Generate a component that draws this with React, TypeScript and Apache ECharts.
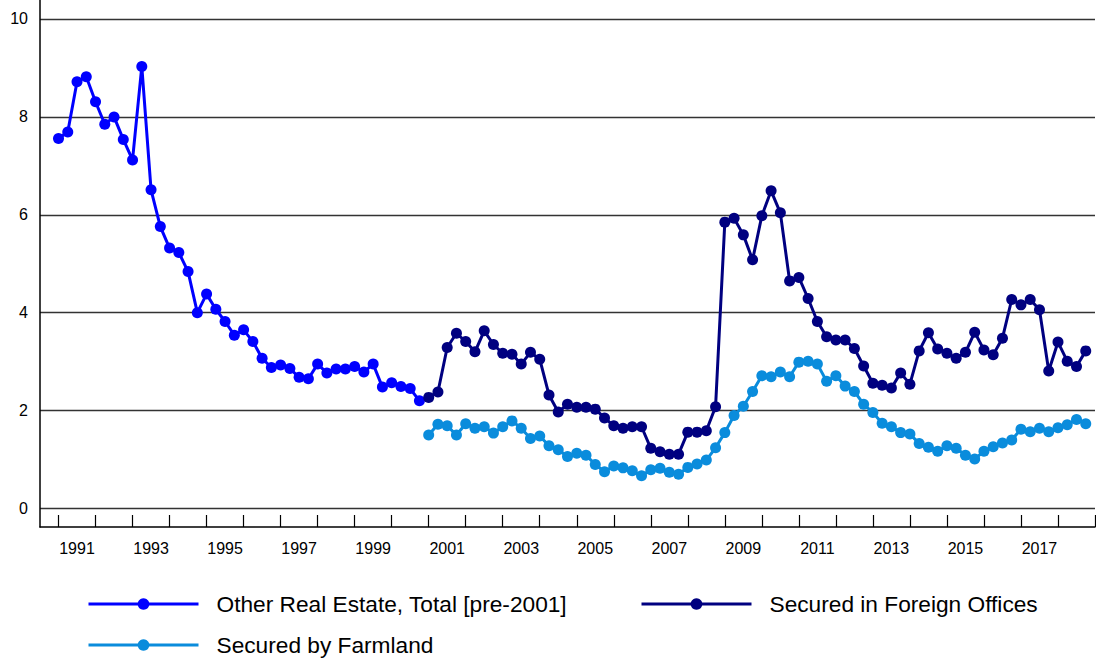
import React, { useEffect, useRef } from "react";
import * as echarts from "echarts";

// Quarterly series, first quarter listed at its year value
const otherStart = 1991;
const otherRealEstate = [
  7.56, 7.69, 8.72, 8.82, 8.31, 7.85, 8.0, 7.54, 7.12, 9.03,
  6.51, 5.76, 5.32, 5.23, 4.84, 4.0, 4.38, 4.07, 3.82, 3.54,
  3.65, 3.41, 3.07, 2.88, 2.93, 2.86, 2.68, 2.65, 2.95, 2.77,
  2.85, 2.85, 2.9, 2.79, 2.95, 2.48, 2.57, 2.49, 2.45, 2.2,
];

const foreignStart = 2001;
const foreignOffices = [
  2.27, 2.38, 3.29, 3.58, 3.41, 3.2, 3.63, 3.35, 3.17, 3.15,
  2.95, 3.19, 3.05, 2.32, 1.97, 2.13, 2.07, 2.07, 2.03, 1.85,
  1.69, 1.64, 1.67, 1.67, 1.23, 1.16, 1.11, 1.11, 1.56, 1.56,
  1.59, 2.08, 5.85, 5.93, 5.59, 5.08, 5.98, 6.49, 6.04, 4.65,
  4.72, 4.29, 3.82, 3.51, 3.44, 3.44, 3.27, 2.91, 2.56, 2.52,
  2.46, 2.77, 2.54, 3.22, 3.59, 3.26, 3.17, 3.07, 3.19, 3.6,
  3.24, 3.14, 3.48, 4.27, 4.16, 4.27, 4.06, 2.81, 3.4, 3.01,
  2.9, 3.22,
];

const farmlandStart = 2001;
const farmland = [
  1.5, 1.72, 1.69, 1.5, 1.73, 1.64, 1.67, 1.54, 1.67, 1.79,
  1.64, 1.43, 1.48, 1.28, 1.2, 1.06, 1.13, 1.09, 0.9, 0.75,
  0.87, 0.83, 0.77, 0.67, 0.79, 0.82, 0.74, 0.7, 0.84, 0.91,
  0.99, 1.24, 1.55, 1.9, 2.09, 2.39, 2.71, 2.69, 2.79, 2.69,
  2.99, 3.01, 2.95, 2.6, 2.71, 2.5, 2.39, 2.13, 1.96, 1.74,
  1.67, 1.55, 1.52, 1.33, 1.25, 1.17, 1.28, 1.23, 1.09, 1.01,
  1.17, 1.26, 1.34, 1.4, 1.62, 1.57, 1.64, 1.57, 1.65, 1.71,
  1.82, 1.73,
];

const yearTicks = [
  1991, 1992, 1993, 1994, 1995, 1996, 1997, 1998, 1999, 2000,
  2001, 2002, 2003, 2004, 2005, 2006, 2007, 2008, 2009, 2010,
  2011, 2012, 2013, 2014, 2015, 2016, 2017, 2018, 2019,
];
const yearLabels = [
  "1991", "1993", "1995", "1997", "1999", "2001", "2003",
  "2005", "2007", "2009", "2011", "2013", "2015", "2017",
];
const yTickValues = [0, 2, 4, 6, 8, 10];

const names = [
  "Other Real Estate, Total [pre-2001]",
  "Secured in Foreign Offices",
  "Secured by Farmland",
];
const colors = ["#0000FF", "#000080", "#0A8CDC"];

const FONT = "'Liberation Sans', Arial, sans-serif";

function toPairs(start: number, vals: number[]) {
  return vals.map((v, i) => [start + i * 0.25, v]);
}

export default function App() {
  const ref = useRef<HTMLDivElement>(null);
  useEffect(() => {
    if (!ref.current) return;
    const chart = echarts.init(ref.current, undefined, { renderer: "svg" });
    const labelPos = yearLabels.map((l) => Number(l) + 0.5);
    const legendBase = {
      orient: "horizontal",
      itemWidth: 110,
      itemHeight: 14.5,
      selectedMode: false,
      padding: 0,
      lineStyle: { width: 3 },
      textStyle: {
        fontFamily: FONT,
        fontSize: 22.7,
        color: "#000",
        padding: [0, 0, 0, 13],
      },
    };
    chart.setOption({
      animation: false,
      backgroundColor: "#fff",
      grid: { left: 40, right: 1, top: 0, bottom: 135, containLabel: false },
      legend: [
        { ...legendBase, data: [names[0]], left: 87, top: 592.5 },
        { ...legendBase, data: [names[1]], left: 640, top: 592.5 },
        { ...legendBase, data: [names[2]], left: 87, top: 633.5 },
      ],
      xAxis: {
        type: "value",
        min: 1990.5,
        max: 2019,
        axisLine: {
          show: true,
          onZero: false,
          lineStyle: { color: "#000", width: 1.5 },
        },
        axisTick: {
          show: true,
          inside: true,
          length: 12,
          customValues: yearTicks,
          lineStyle: { color: "#000", width: 1.2 },
        },
        axisLabel: {
          customValues: labelPos,
          formatter: (v: number) => String(Math.floor(v)),
          fontFamily: FONT,
          fontSize: 16,
          color: "#000",
          margin: 13,
        },
        splitLine: { show: false },
      },
      yAxis: {
        type: "value",
        min: -0.378,
        max: 10.388,
        axisLine: { show: true, lineStyle: { color: "#000", width: 1.5 } },
        axisTick: { show: false, customValues: yTickValues },
        axisLabel: {
          customValues: yTickValues,
          fontFamily: FONT,
          fontSize: 16,
          color: "#000",
          margin: 12,
        },
        splitLine: { show: true, lineStyle: { color: "#333", width: 1.4 } },
      },
      series: [
        [otherStart, otherRealEstate],
        [foreignStart, foreignOffices],
        [farmlandStart, farmland],
      ].map(([s, vals], idx) => ({
        name: names[idx],
        type: "line",
        data: toPairs(s as number, vals as number[]),
        symbol: "circle",
        symbolSize: 11,
        showSymbol: true,
        color: colors[idx],
        lineStyle: { width: 3, color: colors[idx] },
        itemStyle: { color: colors[idx] },
        emphasis: { disabled: true },
        z: idx === 1 ? 3 : 2,
      })),
    });
    return () => chart.dispose();
  }, []);
  return (
    <div
      ref={ref}
      style={{ position: "fixed", left: 0, top: 0, width: 1096, height: 662 }}
    />
  );
}
